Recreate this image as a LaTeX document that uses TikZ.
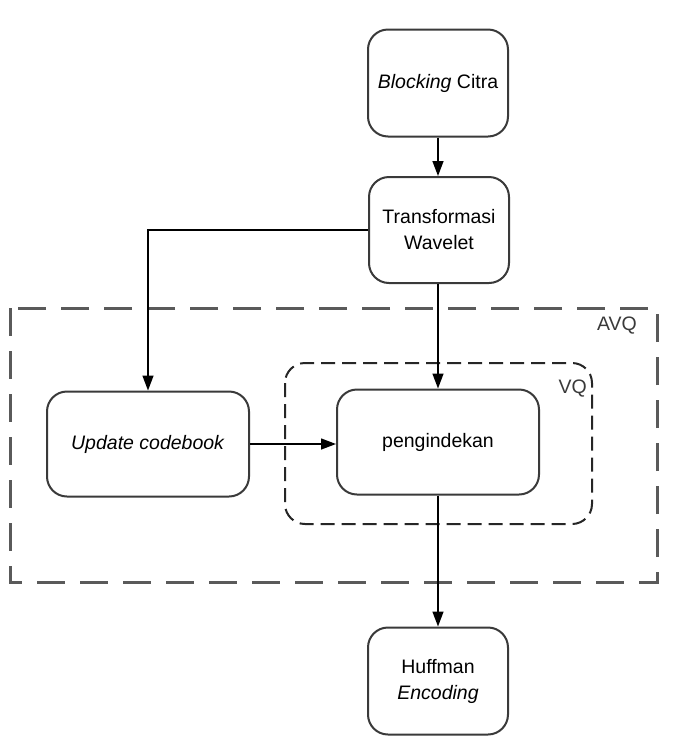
\documentclass[tikz,border=0pt]{standalone}
\usepackage{fontspec}
\setmainfont{Liberation Sans}
\usetikzlibrary{arrows.meta}
\definecolor{boxline}{HTML}{3A3A3A}
\definecolor{avqline}{HTML}{5A5A5A}
\begin{document}
\begin{tikzpicture}[x=1pt,y=-1pt,
  procbox/.style={draw=boxline, line width=2pt, rounded corners=20pt,
    minimum width=#1, align=center, font=\fontsize{19.5}{26}\selectfont, inner sep=0pt},
  procbox/.default=140pt,
  flow/.style={draw=black, line width=1.4pt, -{Triangle[length=15pt,width=11pt]}},
  grouplabel/.style={font=\fontsize{19.5}{22}\selectfont, text=boxline, inner sep=0pt}
]
\useasboundingbox (0,0) rectangle (698,756);
\fill[white] (0,0) rectangle (698,756);

% dashed group frames
\draw[avqline, line width=3pt, dash pattern=on 28pt off 15pt] (10,308) rectangle (657,582);
\draw[black!85, line width=2pt, dash pattern=on 14pt off 7pt, rounded corners=20pt] (285,363) rectangle (592,524);
\node[grouplabel, anchor=base east] (avq) at (637,330) {AVQ};
\node[grouplabel, anchor=base east] (vq) at (587,393) {VQ};

% process steps
\node[procbox, minimum height=107pt] (block) at (438,83) {\textit{Blocking} Citra};
\node[procbox, minimum height=106pt] (wave) at (439,230) {Transformasi\\Wavelet};
\node[procbox=202pt, minimum height=105pt] (upd) at (148,444) {\raisebox{-3pt}{\textit{Update codebook}}};
\node[procbox=202pt, minimum height=105pt] (idx) at (438,442) {\raisebox{4pt}{pengindekan}};
\node[procbox, minimum height=107pt] (huff) at (438,681) {Huffman\\\textit{Encoding}};

% connectors
\draw[flow] (block.south) -- (wave.north -| block.south);
\draw[flow] (wave.west) -| (upd.north);
\draw[flow] (wave.south -| idx.north) -- (idx.north);
\draw[flow] (upd.east) -- (upd.east -| idx.west);
\draw[flow] (idx.south) -- (huff.north);
\end{tikzpicture}
\end{document}
